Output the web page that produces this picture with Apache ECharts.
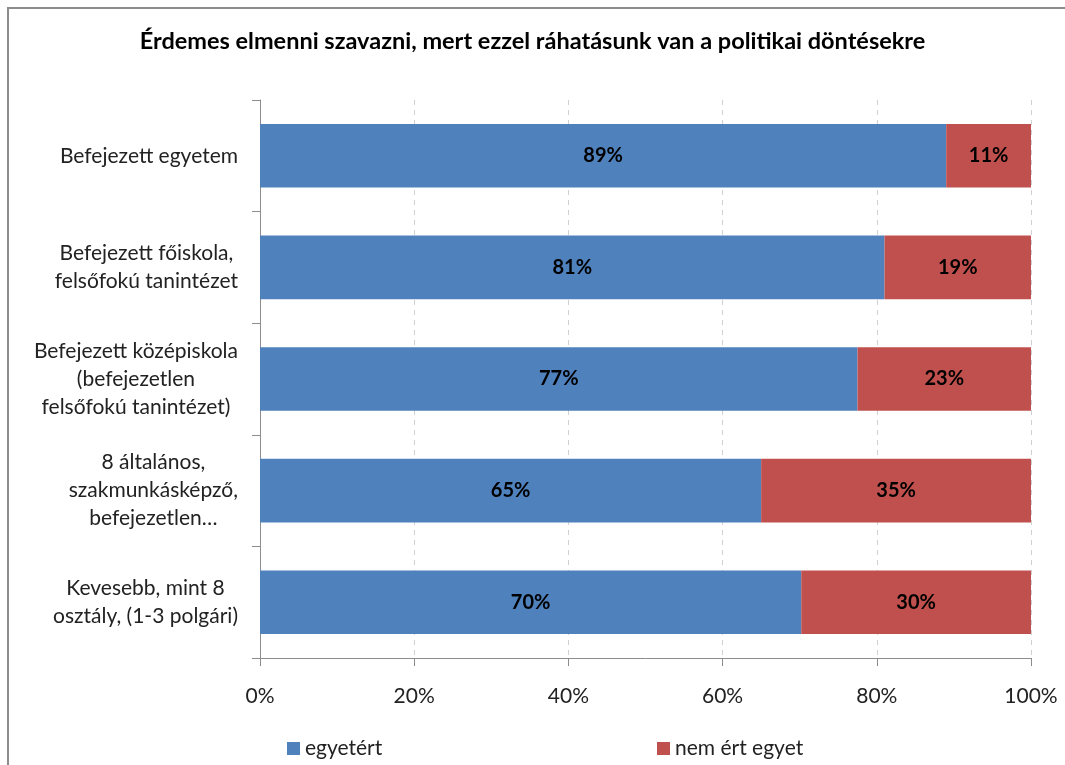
<!DOCTYPE html>
<html>
<head>
<meta charset="utf-8">
<script src="https://cdn.jsdelivr.net/npm/echarts@6/dist/echarts.min.js"></script>
<style>
  html, body { margin: 0; padding: 0; background: #fff; overflow: hidden; }
</style>
</head>
<body>
<div id="chart-dom" style="width: 1065px; height: 765px;"></div>
<script>
// kategóriák felülről lefelé
const categories = [
  'Befejezett egyetem',
  'Befejezett főiskola,\nfelsőfokú tanintézet',
  'Befejezett középiskola\n(befejezetlen\nfelsőfokú tanintézet)',
  '8 általános,\nszakmunkásképző,\nbefejezetlen…',
  'Kevesebb, mint 8\nosztály, (1-3 polgári)'
];
const agreeValues = [89, 81, 77.5, 65, 70.2];
const disagreeValues = [11, 19, 22.5, 35, 29.8];
const agreeLabels = ['89%', '81%', '77%', '65%', '70%'];
const disagreeLabels = ['11%', '19%', '23%', '35%', '30%'];
const xTicks = [0, 20, 40, 60, 80, 100];

const FONT = 'Lato, "Noto Sans", sans-serif';

const myChart = echarts.init(document.getElementById('chart-dom'));

const option = {
  backgroundColor: '#fff',
  animation: false,
  title: {
    text: 'Érdemes elmenni szavazni, mert ezzel ráhatásunk van a politikai döntésekre',
    left: 'center',
    top: 24,
    textStyle: {
      fontFamily: FONT,
      fontSize: 23.5,
      fontWeight: 'bold',
      color: '#000'
    }
  },
  // keret: csak felül és balra látszik
  graphic: [
    {
      type: 'polyline',
      shape: { points: [[8, 765], [8, 8], [1065, 8]] },
      style: { fill: 'none', stroke: '#8c8c8c', lineWidth: 2 },
      silent: true
    }
  ],
  legend: [
    {
      data: ['egyetért'],
      left: 282,
      top: 733,
      itemWidth: 13,
      itemHeight: 13,
      icon: 'rect',
      textStyle: { fontFamily: FONT, fontSize: 21, color: '#222' }
    },
    {
      data: ['nem ért egyet'],
      left: 652,
      top: 733,
      itemWidth: 13,
      itemHeight: 13,
      icon: 'rect',
      textStyle: { fontFamily: FONT, fontSize: 21, color: '#222' }
    }
  ],
  grid: {
    left: 260,
    right: 34,
    top: 100,
    bottom: 107,
    containLabel: false
  },
  xAxis: {
    type: 'value',
    min: 0,
    max: 100,
    interval: 20,
    axisLine: { show: true, lineStyle: { color: '#8c8c8c', width: 1 } },
    axisTick: { show: true, length: 8, lineStyle: { color: '#8c8c8c' } },
    axisLabel: {
      margin: 28,
      fontFamily: FONT,
      fontSize: 21,
      color: '#222',
      formatter: v => (xTicks.indexOf(v) >= 0 ? v + '%' : '')
    },
    splitLine: {
      show: true,
      lineStyle: { color: '#d0d0d0', type: [5, 5], width: 1 }
    }
  },
  yAxis: {
    type: 'category',
    inverse: true,
    data: categories,
    axisLine: { show: true, lineStyle: { color: '#8c8c8c', width: 1 } },
    axisTick: { show: true, length: 8, lineStyle: { color: '#8c8c8c' } },
    axisLabel: {
      interval: 0,
      margin: 22,
      color: '#222',
      formatter: v => v.split('\n').map(l => '{c|' + l + '}').join('\n'),
      rich: {
        c: {
          align: 'center',
          fontFamily: FONT,
          fontSize: 21,
          lineHeight: 28,
          color: '#222'
        }
      }
    },
    splitLine: { show: false }
  },
  series: [
    {
      name: 'egyetért',
      type: 'bar',
      stack: 'total',
      barWidth: '57%',
      itemStyle: { color: '#4F81BD' },
      label: {
        show: true,
        position: 'inside',
        fontFamily: FONT,
        fontSize: 20,
        fontWeight: 'bold',
        color: '#000',
        formatter: p => agreeLabels[p.dataIndex]
      },
      data: agreeValues
    },
    {
      name: 'nem ért egyet',
      type: 'bar',
      stack: 'total',
      barWidth: '57%',
      itemStyle: { color: '#C0504D' },
      label: {
        show: true,
        position: 'inside',
        fontFamily: FONT,
        fontSize: 20,
        fontWeight: 'bold',
        color: '#000',
        formatter: p => disagreeLabels[p.dataIndex]
      },
      data: disagreeValues
    }
  ]
};

myChart.setOption(option, true);
</script>
</body>
</html>
